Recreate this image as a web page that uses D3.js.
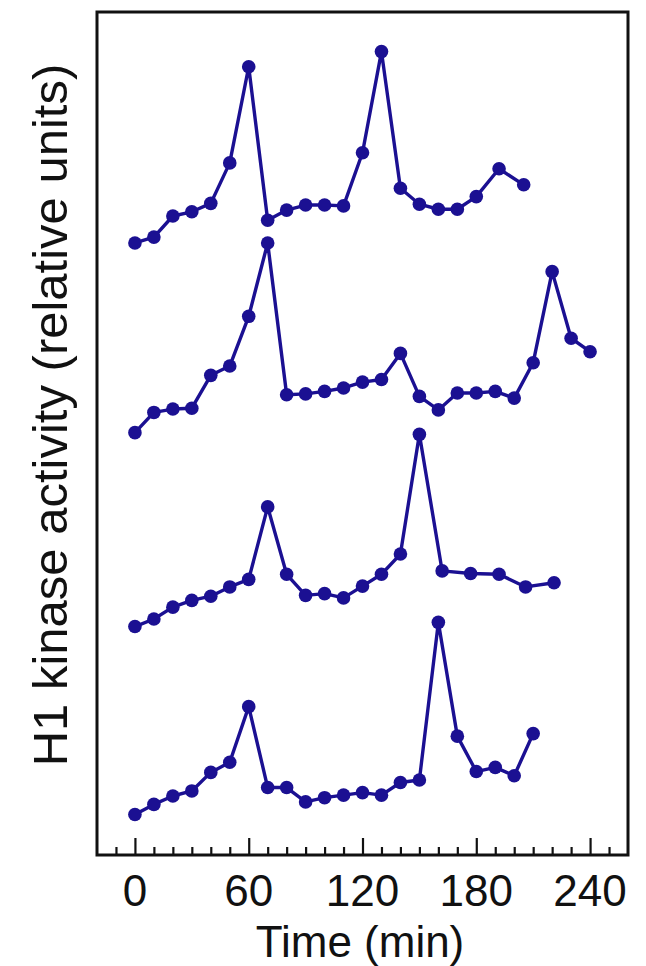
<!DOCTYPE html>
<html>
<head>
<meta charset="utf-8">
<script src="https://cdn.jsdelivr.net/npm/d3@7"></script>
<style>
  html, body { margin: 0; padding: 0; background: #fff; }
  svg { display: block; }
  text { font-family: "Liberation Sans", Arial, Helvetica, sans-serif; fill: #111; }
</style>
</head>
<body>
<svg id="chart" width="646" height="966"></svg>
<script>
// Sampling times (min) for each of the four stacked traces, top to bottom
const timesA = [0,10,20,30,40,50,60,70,80,90,100,110,120,130,140,150,160,170,180,192,205];
const timesB = [0,10,20,30,40,50,60,70,80,90,100,110,120,130,140,150,160,170,180,190,200,210,220,230,240];
const timesC = [0,10,20,30,40,50,60,70,80,90,100,110,120,130,140,150,162,177,192,206,221];
const timesD = [0,10,20,30,40,50,60,70,80,90,100,110,120,130,140,150,160,170,180,190,200,210];

// H1 kinase activity (relative units) for each trace
const activityA = [0.56,0.63,0.88,0.93,1.03,1.51,2.65,0.83,0.95,1.01,1.01,1.00,1.63,2.83,1.21,1.02,0.96,0.96,1.11,1.44,1.25];
const activityB = [0.51,0.75,0.79,0.80,1.19,1.30,1.89,2.76,0.96,0.97,1.00,1.04,1.11,1.14,1.45,0.94,0.78,0.98,0.98,1.00,0.92,1.34,2.42,1.63,1.47];
const activityC = [0.51,0.60,0.74,0.82,0.87,0.98,1.07,1.93,1.13,0.88,0.90,0.85,0.99,1.13,1.37,2.79,1.17,1.14,1.13,0.98,1.03];
const activityD = [0.48,0.60,0.70,0.76,0.98,1.10,1.76,0.80,0.80,0.63,0.68,0.71,0.74,0.71,0.86,0.89,2.76,1.41,0.99,1.04,0.94,1.44];

// Vertical stacking offset of each trace (relative units)
const offsets = [6.7, 4.5, 2.2, 0];

// Axis ticks
const majorTicks = [0, 60, 120, 180, 240];
const minorTicks = d3.range(-10, 260, 10).filter(t => t % 60 !== 0);

const traces = [
  { t: timesA, v: activityA, off: offsets[0] },
  { t: timesB, v: activityB, off: offsets[1] },
  { t: timesC, v: activityC, off: offsets[2] },
  { t: timesD, v: activityD, off: offsets[3] }
];

const color = "#1b1092";
const svg = d3.select("#chart");
const frame = { left: 97, right: 628, top: 12, bottom: 855 };

const x = d3.scaleLinear().domain([-20, 260]).range([frame.left, frame.right]);
const y = d3.scaleLinear().domain([0, 10]).range([frame.bottom, frame.top]);

// Traces
const line = d3.line().x(d => x(d[0])).y(d => y(d[1]));
traces.forEach(tr => {
  const pts = tr.t.map((t, i) => [t, tr.v[i] + tr.off]);
  const g = svg.append("g");
  g.append("path")
    .attr("d", line(pts))
    .attr("fill", "none")
    .attr("stroke", color)
    .attr("stroke-width", 3.4)
    .attr("stroke-linejoin", "round");
  g.selectAll("circle").data(pts).join("circle")
    .attr("cx", d => x(d[0]))
    .attr("cy", d => y(d[1]))
    .attr("r", 6.8)
    .attr("fill", color);
});

// Inward-pointing ticks along the bottom
const axisMajor = d3.axisBottom(x).tickValues(majorTicks).tickSizeInner(-17).tickSizeOuter(0).tickFormat("");
const axisMinor = d3.axisBottom(x).tickValues(minorTicks).tickSizeInner(-8).tickSizeOuter(0).tickFormat("");
[axisMajor, axisMinor].forEach(ax => {
  const g = svg.append("g").attr("transform", `translate(0,${frame.bottom})`).call(ax);
  g.select(".domain").remove();
  g.selectAll("line").attr("stroke", "#111").attr("stroke-width", 2.2);
});

// Tick labels
svg.append("g").selectAll("text").data(majorTicks).join("text")
  .attr("x", d => x(d))
  .attr("y", 906)
  .attr("text-anchor", "middle")
  .attr("font-size", 44)
  .text(d => d);

// Plot frame
svg.append("rect")
  .attr("x", frame.left).attr("y", frame.top)
  .attr("width", frame.right - frame.left)
  .attr("height", frame.bottom - frame.top)
  .attr("fill", "none")
  .attr("stroke", "#111")
  .attr("stroke-width", 3);

// Axis titles
svg.append("text")
  .attr("x", 360).attr("y", 957)
  .attr("text-anchor", "middle")
  .attr("font-size", 44)
  .text("Time (min)");

svg.append("text")
  .attr("transform", "translate(67,415) rotate(-90)")
  .attr("text-anchor", "middle")
  .attr("font-size", 49)
  .text("H1 kinase activity (relative units)");
</script>
</body>
</html>
